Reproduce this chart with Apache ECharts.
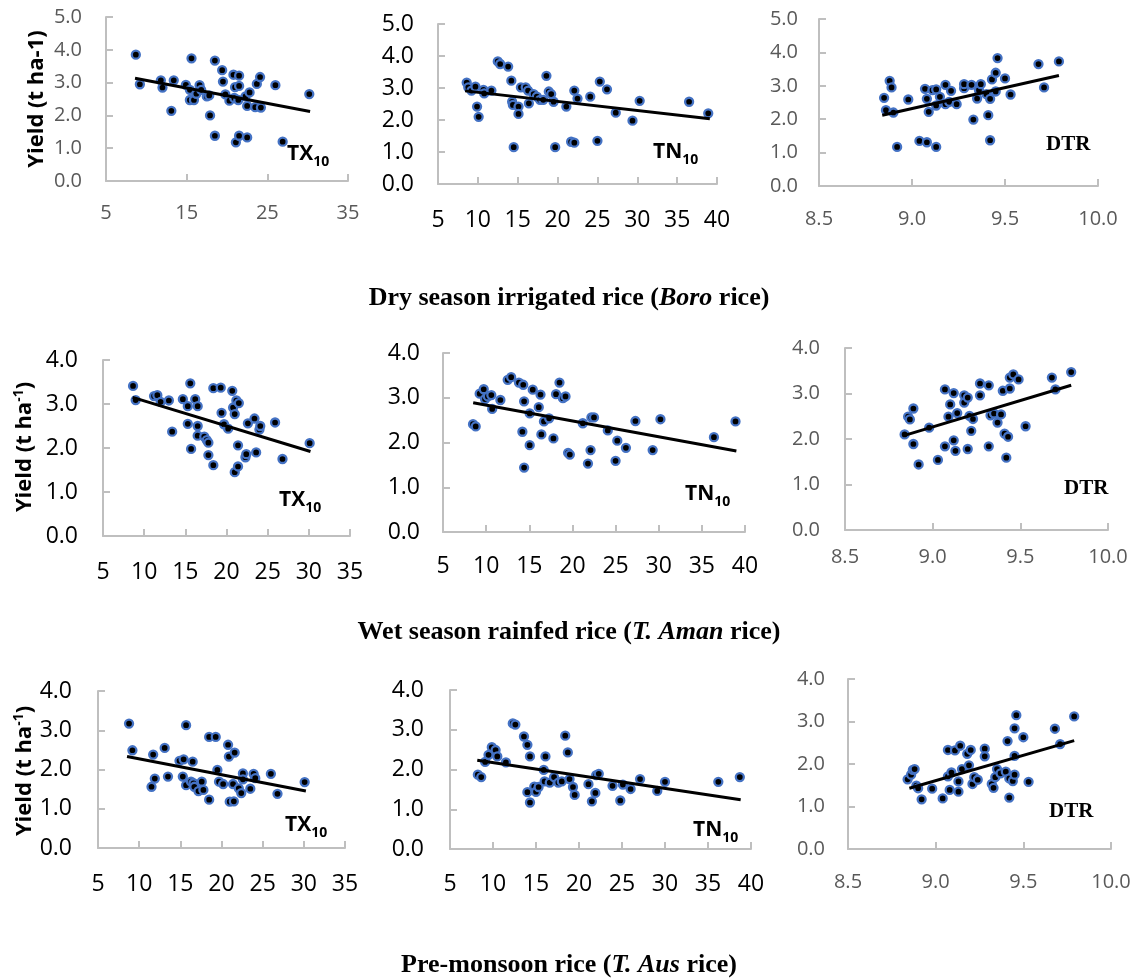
<!DOCTYPE html>
<html>
<head>
<meta charset="utf-8">
<script src="https://cdn.jsdelivr.net/npm/echarts@6/dist/echarts.min.js"></script>
<style>
html,body{margin:0;padding:0;background:#fff;}
#c{width:1136px;height:978px;}
</style>
</head>
<body>
<div id="c"></div>
<script>
// ---------- DATA ----------
// Row 1: Dry season irrigated rice (Boro)
const boroTXx = [8.7,9.2,11.8,12.0,13.4,13.1,14.9,15.4,15.4,15.9,15.6,16.2,16.6,16.8,17.5,17.8,17.9,18.5,18.5,19.4,19.5,19.8,20.3,20.8,21.0,20.9,21.1,21.5,21.5,21.5,22.3,22.5,22.5,22.8,23.5,23.7,24.1,24.2,26.0,26.9,30.2,21.4];
const boroTXy = [3.85,2.95,3.07,2.85,3.07,2.14,2.93,2.78,2.47,2.47,3.74,2.66,2.92,2.78,2.58,2.61,2.0,3.67,1.38,3.38,3.03,2.64,2.45,3.24,2.86,2.53,1.18,3.21,2.9,1.38,2.58,2.29,1.33,2.7,2.25,2.96,3.17,2.24,2.92,1.2,2.65,2.47];
const boroTNx = [8.6,8.8,9.2,9.7,9.9,10.1,10.7,10.8,11.7,12.5,12.8,13.8,14.2,14.3,14.4,14.5,15.1,15.1,15.4,16.0,16.3,16.4,17.0,17.4,17.8,18.2,18.6,18.9,19.2,19.5,19.7,21.1,21.7,22.1,22.1,22.5,24.1,25.0,25.3,26.2,27.3,29.4,30.3,36.5,38.9];
const boroTNy = [3.17,3.02,2.92,3.04,2.42,2.10,2.94,2.83,2.92,3.83,3.75,3.67,3.23,2.57,2.47,1.15,2.42,2.19,3.02,3.02,2.92,2.52,2.81,2.73,2.63,2.63,3.38,2.89,2.81,2.57,1.15,2.42,1.32,1.29,2.92,2.67,2.73,1.35,3.2,2.96,2.23,1.98,2.6,2.57,2.21];
const boroDTRx = [8.85,8.86,8.88,8.89,8.90,8.92,8.98,9.04,9.07,9.08,9.08,9.09,9.11,9.13,9.13,9.13,9.15,9.18,9.18,9.20,9.21,9.24,9.28,9.28,9.32,9.33,9.35,9.36,9.37,9.40,9.41,9.42,9.42,9.43,9.45,9.45,9.46,9.50,9.53,9.68,9.71,9.79];
const boroDTRy = [2.64,2.27,3.15,2.95,2.20,1.17,2.59,1.35,2.91,2.61,1.31,2.22,2.87,2.89,2.41,1.17,2.67,3.03,2.45,2.52,2.85,2.45,2.93,3.05,3.03,1.99,2.62,2.87,3.05,2.75,2.12,2.61,1.37,3.19,3.39,2.83,3.83,3.22,2.74,3.65,2.95,3.73];

// Row 2: Wet season rainfed rice (T. Aman)
const amanTXx = [8.65,8.97,11.2,11.6,12.0,13.0,13.4,14.7,15.3,15.3,15.6,15.7,16.2,16.5,16.5,16.5,17.3,17.6,17.8,17.8,18.4,18.4,19.3,19.4,19.7,20.2,20.7,20.8,21.0,21.0,21.2,21.5,21.4,21.4,22.3,22.4,22.6,23.4,23.6,24.0,24.1,25.9,26.8,30.1];
const amanTXy = [3.41,3.09,3.18,3.2,3.05,3.08,2.37,3.11,2.95,2.55,3.47,1.98,3.11,2.95,2.5,2.28,2.26,2.18,2.12,1.84,1.61,3.36,3.37,2.8,2.54,2.44,3.3,2.92,2.77,1.45,3.08,3.02,2.06,1.58,1.79,1.86,2.56,2.67,1.9,2.42,2.5,2.58,1.75,2.11];
const amanTNx = [8.48,8.79,9.25,9.72,9.87,10.2,10.6,10.7,11.65,12.5,12.9,13.8,14.3,14.2,14.4,14.4,15.05,15.05,15.4,16.1,16.3,16.4,16.7,17.3,17.8,18.1,18.5,18.9,19.2,19.5,19.7,21.2,21.8,22.1,22.2,22.5,24.1,25.0,25.2,26.2,27.3,29.3,30.2,36.4,38.9];
const amanTNy = [2.41,2.36,3.09,3.19,2.97,3.03,3.06,2.75,2.95,3.4,3.46,3.34,3.29,2.24,2.92,1.44,2.65,1.94,3.18,2.79,3.07,2.18,2.47,2.54,2.09,3.08,3.34,2.99,3.03,1.77,1.73,2.43,1.53,1.83,2.56,2.56,2.27,1.59,2.04,1.88,2.48,1.83,2.52,2.12,2.47];
const amanDTRx = [8.84,8.86,8.87,8.89,8.89,8.92,8.98,9.03,9.07,9.07,9.09,9.10,9.12,9.12,9.13,9.14,9.18,9.18,9.20,9.20,9.21,9.22,9.23,9.27,9.27,9.32,9.32,9.33,9.35,9.37,9.39,9.40,9.41,9.42,9.43,9.44,9.44,9.46,9.49,9.53,9.68,9.70,9.79];
const amanDTRy = [2.10,2.49,2.43,1.89,2.67,1.44,2.25,1.54,3.09,1.84,2.49,2.76,1.97,3.01,1.74,2.57,2.96,2.80,2.91,1.78,2.51,2.18,2.44,2.96,3.22,3.18,1.84,2.52,2.56,2.36,2.54,3.06,2.12,1.59,2.05,3.11,3.35,3.42,3.31,2.28,3.35,3.09,3.47];

// Row 3: Pre-monsoon rice (T. Aus)
const ausTXx = [8.77,9.18,11.5,11.7,11.9,13.1,13.5,14.9,15.4,15.3,15.7,15.7,16.3,16.5,16.6,16.7,17.2,17.6,17.8,18.5,18.5,19.3,19.5,19.7,20.2,20.8,20.9,21.0,21.5,21.4,21.6,22.1,22.4,22.6,22.6,23.5,23.9,24.1,26.0,26.8,30.1];
const ausTXy = [3.17,2.49,1.56,2.38,1.77,2.55,1.82,2.22,2.26,1.82,3.13,1.60,1.69,2.20,1.65,1.56,1.45,1.69,1.48,2.83,1.23,2.83,1.99,1.69,1.63,2.63,2.33,1.18,1.19,1.63,2.43,1.52,1.40,1.90,1.75,1.51,1.89,1.78,1.89,1.38,1.68];
const ausTNx = [8.24,8.63,9.09,9.48,9.86,10.3,10.5,11.5,12.3,12.6,13.6,14.0,14.0,14.3,14.3,14.8,15.0,15.3,15.9,16.0,16.1,16.6,17.1,17.6,18.0,18.4,18.7,18.9,19.3,19.5,21.1,21.5,21.9,22.0,22.3,23.9,24.8,25.1,26.0,27.1,29.1,30.0,36.2,38.7];
const ausTNy = [1.87,1.81,2.19,2.37,2.56,2.49,2.33,2.18,3.16,3.13,2.83,2.62,1.43,2.33,1.17,1.57,1.44,1.56,1.99,1.70,2.33,1.67,1.81,1.67,1.70,2.85,2.43,1.76,1.56,1.36,1.63,1.20,1.41,1.86,1.89,1.59,1.22,1.62,1.51,1.76,1.46,1.69,1.69,1.81];
const ausDTRx = [8.84,8.86,8.87,8.88,8.89,8.90,8.92,8.98,9.04,9.07,9.07,9.08,9.09,9.11,9.13,9.13,9.14,9.15,9.18,9.19,9.20,9.21,9.22,9.24,9.28,9.28,9.32,9.33,9.34,9.35,9.37,9.40,9.41,9.42,9.42,9.44,9.45,9.45,9.45,9.46,9.50,9.53,9.68,9.71,9.79];
const ausDTRy = [1.64,1.75,1.86,1.88,1.49,1.43,1.17,1.42,1.19,2.33,1.71,1.39,1.80,2.32,1.59,1.35,2.43,1.88,2.24,1.97,2.33,1.53,1.69,1.63,2.36,2.18,1.53,1.44,1.69,1.88,1.78,1.82,2.54,1.21,1.66,1.60,2.19,1.75,2.84,3.15,2.63,1.58,2.83,2.47,3.12];

// Linear trend lines (endpoints)
const boroTXtrendX = [8.6,30.3],  boroTXtrendY = [3.13,2.12];
const boroTNtrendX = [8.4,39.1],  boroTNtrendY = [2.91,2.04];
const boroDTRtrendX = [8.84,9.79], boroDTRtrendY = [2.12,3.31];
const amanTXtrendX = [8.6,30.2],  amanTXtrendY = [3.15,1.92];
const amanTNtrendX = [8.5,39.0],  amanTNtrendY = [2.89,1.81];
const amanDTRtrendX = [8.84,9.79], amanDTRtrendY = [2.08,3.18];
const ausTXtrendX = [8.53,30.25], ausTXtrendY = [2.33,1.45];
const ausTNtrendX = [8.17,38.8],  ausTNtrendY = [2.23,1.24];
const ausDTRtrendX = [8.85,9.79], ausDTRtrendY = [1.43,2.55];

// Tick labels
const txTicksWide = [5,15,25,35];
const txTicks = [5,10,15,20,25,30,35];
const tnTicks = [5,10,15,20,25,30,35,40];
const dtrTicks = [8.5,9.0,9.5,10.0];
const yTicks5 = [0,1,2,3,4,5];
const yTicks4 = [0,1,2,3,4];

// Texts
const rowTitles = [
  ['Dry season irrigated rice (', 'Boro', ' rice)'],
  ['Wet season rainfed rice (', 'T. Aman', ' rice)'],
  ['Pre-monsoon rice (', 'T. Aus', ' rice)']
];
const yTitleMain = 'Yield (t ha';
const panelNames = ['TX', 'TN', 'DTR'];

// ---------- LAYOUT ----------
const SANS = '"Open Sans","Noto Sans",sans-serif';
const SERIF = '"Liberation Serif","DejaVu Serif",serif';
const GRAY = '#595959';
const AX = '#BFBFBF';

const panels = [
  {grid:{left:106,top:17,width:242,height:164}, xr:[5,35], xt:txTicksWide, yt:yTicks5, x:boroTXx, y:boroTXy, tx:boroTXtrendX, ty:boroTXtrendY, lc:GRAY, fs:20, xm:22, ym:24, dec:0},
  {grid:{left:438,top:24,width:279,height:160}, xr:[5,40], xt:tnTicks, yt:yTicks5, x:boroTNx, y:boroTNy, tx:boroTNtrendX, ty:boroTNtrendY, lc:'#000', fs:23, xm:25, ym:24, dec:0},
  {grid:{left:819,top:19,width:279,height:167}, xr:[8.5,10], xt:dtrTicks, yt:yTicks5, x:boroDTRx, y:boroDTRy, tx:boroDTRtrendX, ty:boroDTRtrendY, lc:GRAY, fs:20, xm:23, ym:21, dec:1},
  {grid:{left:103,top:360,width:247,height:176}, xr:[5,35], xt:txTicks, yt:yTicks4, x:amanTXx, y:amanTXy, tx:amanTXtrendX, ty:amanTXtrendY, lc:'#000', fs:23, xm:25, ym:25, dec:0},
  {grid:{left:443,top:353,width:302,height:179}, xr:[5,40], xt:tnTicks, yt:yTicks4, x:amanTNx, y:amanTNy, tx:amanTNtrendX, ty:amanTNtrendY, lc:'#000', fs:23, xm:23, ym:23, dec:0},
  {grid:{left:845,top:348,width:263,height:182}, xr:[8.5,10], xt:dtrTicks, yt:yTicks4, x:amanDTRx, y:amanDTRy, tx:amanDTRtrendX, ty:amanDTRtrendY, lc:GRAY, fs:20, xm:17, ym:25, dec:1},
  {grid:{left:98,top:691,width:247,height:157}, xr:[5,35], xt:txTicks, yt:yTicks4, x:ausTXx, y:ausTXy, tx:ausTXtrendX, ty:ausTXtrendY, lc:'#000', fs:23, xm:25, ym:26, dec:0},
  {grid:{left:450,top:690,width:301,height:159}, xr:[5,40], xt:tnTicks, yt:yTicks4, x:ausTNx, y:ausTNy, tx:ausTNtrendX, ty:ausTNtrendY, lc:'#000', fs:23, xm:24, ym:26, dec:0},
  {grid:{left:848,top:679,width:263,height:170}, xr:[8.5,10], xt:dtrTicks, yt:yTicks4, x:ausDTRx, y:ausDTRy, tx:ausDTRtrendX, ty:ausDTRtrendY, lc:GRAY, fs:20, xm:23, ym:23, dec:1}
];

const grids = [], xAxes = [], yAxes = [], series = [];
panels.forEach((p, i) => {
  grids.push(Object.assign({containLabel:false}, p.grid));
  const axisLine = {show:true, onZero:false, lineStyle:{color:AX, width:2}};
  const axisTick = {show:true, inside:true, length:7, lineStyle:{color:AX, width:2}};
  xAxes.push({
    gridIndex:i, type:'value', min:p.xr[0], max:p.xr[1],
    axisLine, splitLine:{show:false},
    axisTick:Object.assign({customValues:p.xt}, axisTick),
    axisLabel:{customValues:p.xt, color:p.lc, fontSize:p.fs, fontFamily:SANS, margin:p.xm,
      formatter:v => Number(v).toFixed(p.dec)}
  });
  yAxes.push({
    gridIndex:i, type:'value', min:0, max:p.yt[p.yt.length-1], interval:1,
    axisLine, splitLine:{show:false}, axisTick,
    axisLabel:{color:p.lc, fontSize:p.fs, fontFamily:SANS, margin:p.ym,
      formatter:v => Number(v).toFixed(1)}
  });
  series.push({
    type:'scatter', xAxisIndex:i, yAxisIndex:i,
    data:p.x.map((v, k) => [v, p.y[k]]),
    symbol:'circle', symbolSize:8,
    itemStyle:{color:'#000', borderColor:'#4472C4', borderWidth:2.3, opacity:1},
    z:2, silent:true
  });
  series.push({
    type:'line', xAxisIndex:i, yAxisIndex:i,
    data:p.tx.map((v, k) => [v, p.ty[k]]),
    showSymbol:false, symbol:'none',
    lineStyle:{color:'#000', width:3},
    z:3, silent:true
  });
});

// ---------- GRAPHIC TEXTS ----------
const graphic = [];
// Row titles
const rowTitlePos = [[569,298],[569,632],[569,965]];
rowTitles.forEach((t, r) => {
  graphic.push({
    type:'text', x:rowTitlePos[r][0], y:rowTitlePos[r][1],
    style:{
      text:'{b|' + t[0] + '}{i|' + t[1] + '}{b|' + t[2] + '}',
      rich:{
        b:{fontFamily:SERIF, fontWeight:'bold', fontSize:26, fill:'#000'},
        i:{fontFamily:SERIF, fontWeight:'bold', fontStyle:'italic', fontSize:26, fill:'#000'}
      },
      textAlign:'center', textVerticalAlign:'middle', align:'center', verticalAlign:'middle'
    }
  });
});
// Y-axis titles
const yTitlePos = [[37,99],[25,447],[25,771]];
yTitlePos.forEach((pos, r) => {
  const txt = r === 0
    ? '{a|' + yTitleMain + '-1)}'
    : '{a|' + yTitleMain + '}{s|-1}{a|)}';
  graphic.push({
    type:'text', x:pos[0], y:pos[1], rotation:Math.PI/2,
    style:{
      text:txt,
      rich:{
        a:{fontFamily:SANS, fontWeight:'bold', fontSize:22, fill:'#000', lineHeight:26},
        s:{fontFamily:SANS, fontWeight:'bold', fontSize:14, fill:'#000', verticalAlign:'top', lineHeight:26}
      },
      textAlign:'center', textVerticalAlign:'middle', align:'center', verticalAlign:'middle'
    }
  });
});
// Panel labels
const labelPos = [
  [287,154],[653,152],[1046,145],
  [279,500],[685,494],[1064,489],
  [285,825],[693,830],[1049,812]
];
labelPos.forEach((pos, i) => {
  const kind = panelNames[i % 3];
  let style;
  if (kind === 'DTR') {
    style = {text:'DTR', font:'bold 21px ' + SERIF, fill:'#000'};
  } else {
    style = {
      text:'{m|' + kind + '}{s|10}',
      rich:{
        m:{fontFamily:SANS, fontWeight:'bold', fontSize:21, fill:'#000', lineHeight:30},
        s:{fontFamily:SANS, fontWeight:'bold', fontSize:14, fill:'#000', lineHeight:30, verticalAlign:'bottom'}
      }
    };
  }
  style.textAlign = 'left'; style.align = 'left';
  style.textVerticalAlign = 'middle'; style.verticalAlign = 'middle';
  graphic.push({type:'text', x:pos[0], y:pos[1], style});
});

const chart = echarts.init(document.getElementById('c'), null, {renderer:'canvas'});
chart.setOption({
  animation:false,
  backgroundColor:'#fff',
  grid:grids, xAxis:xAxes, yAxis:yAxes, series, graphic
});
</script>
</body>
</html>
